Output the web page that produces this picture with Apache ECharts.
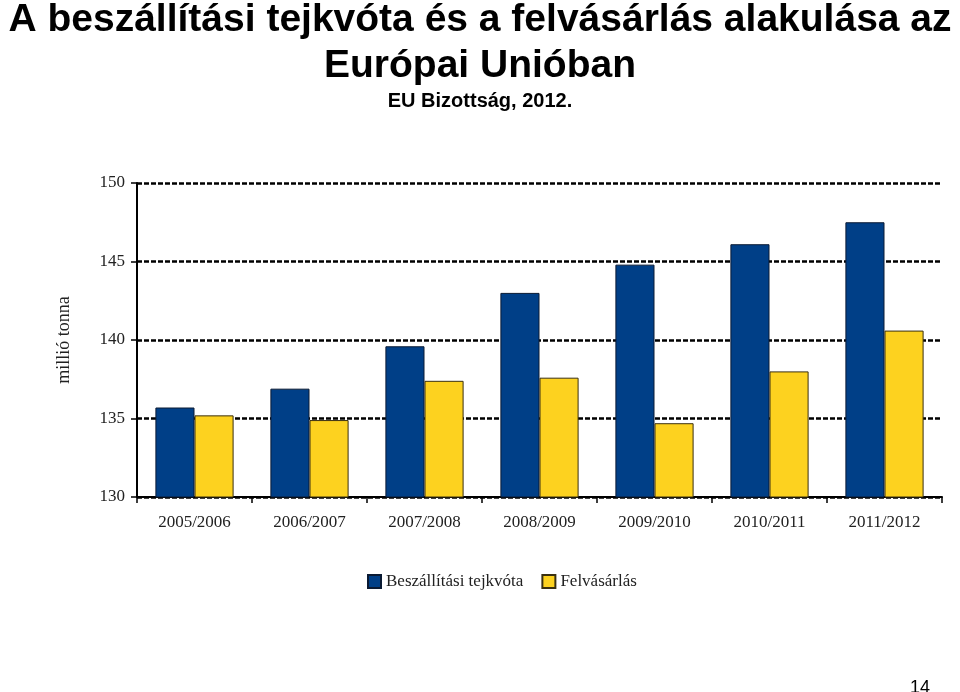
<!DOCTYPE html>
<html>
<head>
<meta charset="utf-8">
<script src="https://cdn.jsdelivr.net/npm/echarts@6/dist/echarts.min.js"></script>
<style>
  html, body { margin: 0; padding: 0; background: #fff; }
  #chart { width: 960px; height: 692px; }
</style>
</head>
<body>
<div id="chart"></div>
<script>
// évek (kategóriák)
var years = ['2005/2006', '2006/2007', '2007/2008', '2008/2009', '2009/2010', '2010/2011', '2011/2012'];
// millió tonna
var quota = [135.7, 136.9, 139.6, 143.0, 144.8, 146.1, 147.5];
var purchase = [135.2, 134.9, 137.4, 137.6, 134.7, 138.0, 140.6];

var chart = echarts.init(document.getElementById('chart'));
var serif = '"Liberation Serif", "DejaVu Serif", serif';
var sans = '"Liberation Sans", Arial, sans-serif';

var option = {
  animation: false,
  title: [
    {
      text: 'A beszállítási tejkvóta és a felvásárlás alakulása az\nEurópai Unióban',
      left: 'center', top: -8,
      textStyle: { fontFamily: sans, fontSize: 39, fontWeight: 'bold', color: '#000', lineHeight: 46 }
    },
    {
      text: 'EU Bizottság, 2012.',
      left: 'center', top: 86,
      textStyle: { fontFamily: sans, fontSize: 20, fontWeight: 'bold', color: '#000' }
    },
    {
      text: '14',
      left: 905, top: 674,
      textStyle: { fontFamily: sans, fontSize: 18, fontWeight: 'normal', color: '#000' }
    }
  ],
  legend: {
    top: 568,
    left: 362,
    icon: 'rect',
    itemWidth: 13, itemHeight: 13,
    itemGap: 18,
    textStyle: { fontFamily: serif, fontSize: 17, color: '#222' },
    data: ['Beszállítási tejkvóta', 'Felvásárlás']
  },
  grid: { left: 137, right: 18, top: 183, bottom: 195 },
  xAxis: {
    type: 'category',
    data: years,
    axisLine: { lineStyle: { color: '#000', width: 2 } },
    axisTick: { show: true, length: 6, lineStyle: { color: '#000', width: 1.5 } },
    axisLabel: { fontFamily: serif, fontSize: 17, color: '#222', margin: 17 }
  },
  yAxis: {
    type: 'value',
    min: 130, max: 150, interval: 5,
    name: 'millió tonna',
    nameLocation: 'middle',
    nameGap: 64,
    nameTextStyle: { fontFamily: serif, fontSize: 18, color: '#222' },
    axisLine: { show: true, lineStyle: { color: '#000', width: 2 } },
    axisTick: { show: true, length: 6, lineStyle: { color: '#000', width: 1.5 } },
    axisLabel: { fontFamily: serif, fontSize: 17, color: '#222', margin: 12 },
    splitLine: { show: true, lineStyle: { color: '#000', width: 2.5, type: [5, 2] } }
  },
  series: [
    {
      name: 'Beszállítási tejkvóta',
      type: 'bar',
      data: quota,
      barGap: '0%',
      barCategoryGap: '32%',
      itemStyle: { color: '#003F87', borderColor: '#0a1a33', borderWidth: 1 }
    },
    {
      name: 'Felvásárlás',
      type: 'bar',
      data: purchase,
      itemStyle: { color: '#FDD21F', borderColor: '#3a3010', borderWidth: 1 }
    }
  ]
};
chart.setOption(option);
</script>
</body>
</html>
